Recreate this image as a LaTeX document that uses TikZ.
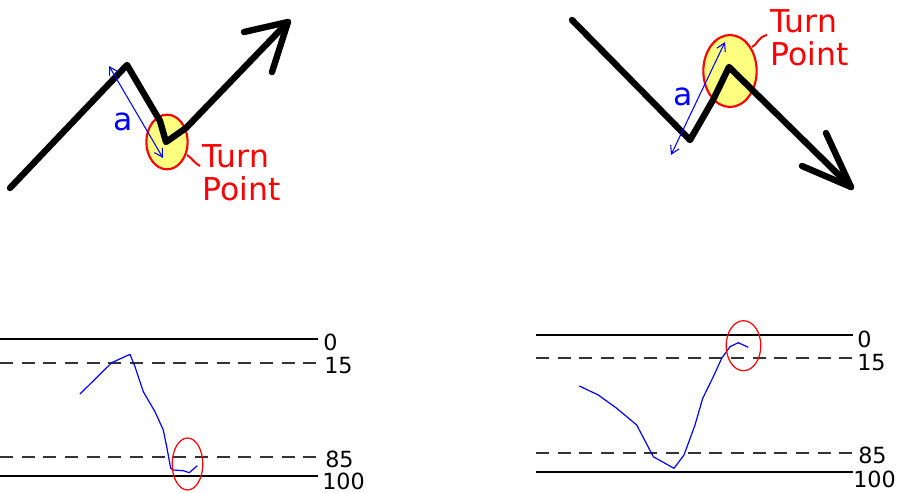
\documentclass[tikz,border=0pt]{standalone}
\usepackage{fontspec}
\setmainfont{DejaVu Sans}
\usetikzlibrary{arrows.meta,shapes.geometric}
\definecolor{tpyellow}{RGB}{255,255,128}
\definecolor{tpred}{RGB}{255,0,0}
\definecolor{tpblue}{RGB}{0,0,255}
\tikzset{
  bigstroke/.style={line width=4.8pt, line cap=round, line join=round, black},
  tpellipse/.style={draw=tpred, line width=1.6pt, fill=tpyellow},
  tplabel/.style={text=tpred, anchor=base west, inner sep=0pt, font=\fontsize{23.6}{26}\selectfont},
  alabel/.style={text=tpblue, anchor=base west, inner sep=0pt, font=\fontsize{23.6}{26}\selectfont},
  measure/.style={draw=tpblue, line width=0.8pt, {Straight Barb[length=6pt,width=7pt]}-{Straight Barb[length=6pt,width=7pt]}},
  tick/.style={draw=tpred, line width=1.5pt},
  levelsolid/.style={draw=black, line width=1.4pt},
  leveldash/.style={draw=black!80, line width=1.6pt, dash pattern=on 9.75pt off 6.5pt},
  levellabel/.style={anchor=base west, inner sep=0pt, font=\fontsize{16.7}{19}\selectfont},
  osc/.style={draw=tpblue, line width=0.9pt, line join=round},
  osccircle/.style={draw=tpred, line width=0.9pt}
}
\begin{document}
\begin{tikzpicture}[x=0.75pt,y=-0.75pt]
\useasboundingbox (0,0) rectangle (897,493);

% ---------------- top left: up trend ----------------
\coordinate (lstart) at (10,188);
\coordinate (lpeak) at (127,65);
\coordinate (lmid) at (160,121);
\coordinate (ltrough) at (166,142);
\coordinate (lbend) at (186,128);
\coordinate (ltip) at (288,22);
\coordinate (lbarbA) at (244,32);
\coordinate (lbarbB) at (272,72);
\node[tpellipse, ellipse, minimum width=31pt, minimum height=41pt, inner sep=0pt] (lcirc) at (167,142) {};
\draw[bigstroke] (lstart) -- (lpeak) -- (lmid) -- (ltrough) -- (lbend) -- (ltip);
\draw[bigstroke] (lbarbA) -- (ltip) -- (lbarbB);
\coordinate (la1) at (109,66);
\coordinate (la2) at (163,158);
\draw[measure] (la1) -- (la2);
\node[alabel] (la) at (113,130) {a};
\coordinate (ltick1) at (187,155);
\coordinate (ltick2) at (200,166);
\draw[tick] (ltick1) .. controls (192,158) and (194,163) .. (ltick2);
\node[tplabel] (lturn) at (202,167) {Turn};
\node[tplabel] (lpoint) at (202,200) {Point};

% ---------------- top right: down trend ----------------
\coordinate (rstart) at (572,20);
\coordinate (rtrough) at (690,140);
\coordinate (rmid) at (713,100);
\coordinate (rpeak) at (729,67);
\coordinate (rtip) at (851,187);
\coordinate (rbarbA) at (826,133);
\coordinate (rbarbB) at (802,166);
\node[tpellipse, ellipse, minimum width=40pt, minimum height=54pt, inner sep=0pt] (rcirc) at (730,71) {};
\draw[bigstroke] (rstart) -- (rtrough) -- (rmid) -- (rpeak) -- (rtip);
\draw[bigstroke] (rbarbA) -- (rtip) -- (rbarbB);
\coordinate (ra1) at (671,155);
\coordinate (ra2) at (725,42);
\draw[measure] (ra1) -- (ra2);
\node[alabel] (ra) at (673,105) {a};
\coordinate (rtick1) at (752,47);
\coordinate (rtick2) at (767,35);
\draw[tick] (rtick1) .. controls (758,44) and (758,37) .. (rtick2);
\node[tplabel] (rturn) at (770,32) {Turn};
\node[tplabel] (rpoint) at (770,65) {Point};

% ---------------- bottom left oscillator ----------------
\coordinate (bl0a) at (0,339.3);   \coordinate (bl0b) at (318,339.3);
\coordinate (bl15a) at (0,362.7);  \coordinate (bl15b) at (318,362.7);
\coordinate (bl85a) at (0,456.7);  \coordinate (bl85b) at (318,456.7);
\coordinate (bl100a) at (0,476);   \coordinate (bl100b) at (318,476);
\draw[levelsolid] (bl0a) -- (bl0b);
\draw[leveldash] (bl15a) -- (bl15b);
\draw[leveldash] (bl85a) -- (bl85b);
\draw[levelsolid] (bl100a) -- (bl100b);
\node[levellabel] (bll0) at (323,350) {0};
\node[levellabel] (bll15) at (324,373) {15};
\node[levellabel] (bll85) at (325,467) {85};
\node[levellabel] (bll100) at (322,489) {100};
\draw[osc] (80,394) -- (111.7,362.7) -- (130,354.3) -- (135,366.7) -- (143.3,391.7)
  -- (155,411.7) -- (163.3,430) -- (166.7,446.7) -- (170.7,468.3) -- (173.3,470)
  -- (183.3,470.7) -- (189.3,472.7) -- (197.3,465.7);
\node[osccircle, ellipse, minimum width=23pt, minimum height=39pt, inner sep=0pt] (blcirc) at (187.5,464) {};

% ---------------- bottom right oscillator ----------------
\coordinate (br0a) at (536,335);   \coordinate (br0b) at (853,335);
\coordinate (br15a) at (536,358.3);  \coordinate (br15b) at (853,358.3);
\coordinate (br85a) at (536,452.7);  \coordinate (br85b) at (853,452.7);
\coordinate (br100a) at (536,472.3); \coordinate (br100b) at (853,472.3);
\draw[levelsolid] (br0a) -- (br0b);
\draw[leveldash] (br15a) -- (br15b);
\draw[leveldash] (br85a) -- (br85b);
\draw[levelsolid] (br100a) -- (br100b);
\node[levellabel] (brl0) at (857,347) {0};
\node[levellabel] (brl15) at (857,370) {15};
\node[levellabel] (brl85) at (858,463) {85};
\node[levellabel] (brl100) at (853,487) {100};
\draw[osc] (579.3,386) -- (598.3,395) -- (616.7,408.3) -- (636.7,425) -- (653.3,456.7)
  -- (674,468.3) -- (684,455) -- (695,425) -- (702.7,398.3) -- (713.3,376.7)
  -- (721.7,358.3) -- (730,346.7) -- (738.3,342.7) -- (748.3,347.3);
\node[osccircle, ellipse, minimum width=26pt, minimum height=37.5pt, inner sep=0pt] (brcirc) at (743.5,345.7) {};
\end{tikzpicture}
\end{document}
